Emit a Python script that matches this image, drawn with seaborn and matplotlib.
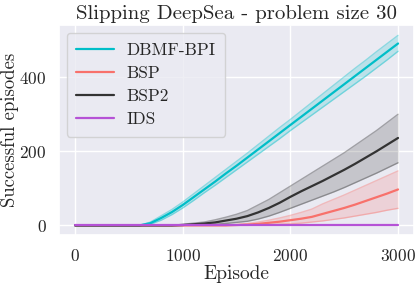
import numpy as np
import pandas as pd
import seaborn as sns
import matplotlib.pyplot as plt

# Data (episodes 0..3000, step 100)
episodes = list(range(0, 3001, 100))

dbmf_mean = [0, 0, 0, 0, 0, 0, 0, 6, 20, 36, 55, 76, 97, 118, 140, 161,
             183, 205, 227, 249, 271, 293, 315, 337, 359, 381, 403, 425, 447, 469, 491]
dbmf_low = [0, 0, 0, 0, 0, 0, 0, 3, 14, 29, 47, 67, 88, 108, 129, 150,
            171, 192, 213, 234, 256, 277, 298, 319, 340, 361, 382, 403, 425, 447, 470]
dbmf_high = [0, 0, 0, 0, 0, 0, 0, 9, 26, 43, 63, 85, 107, 129, 151, 173,
             195, 218, 241, 264, 286, 309, 332, 355, 378, 401, 424, 446, 469, 491, 513]

bsp_mean = [0, 0, 0, 0, 0, 0, 0, 0, 0, 0, 0, 0, 0, 0, 0, 1,
            2, 4, 7, 10, 14, 18, 23, 31, 39, 47, 56, 66, 76, 86, 97]
bsp_low = [0, 0, 0, 0, 0, 0, 0, 0, 0, 0, 0, 0, 0, 0, 0, 0,
           0, 1, 2, 3, 4, 6, 9, 12, 16, 20, 25, 30, 35, 41, 46]
bsp_high = [0, 0, 0, 0, 0, 0, 0, 0, 0, 0, 0, 0, 0, 0, 0, 2,
            5, 9, 14, 20, 27, 35, 44, 58, 70, 82, 95, 108, 121, 134, 147]

bsp2_mean = [0, 0, 0, 0, 0, 0, 0, 0, 0, 0, 1, 3, 5, 8, 13, 18,
             25, 35, 47, 61, 77, 92, 106, 120, 135, 150, 166, 183, 200, 218, 236]
bsp2_low = [0, 0, 0, 0, 0, 0, 0, 0, 0, 0, 0, 1, 2, 3, 5, 8,
            11, 17, 25, 35, 46, 57, 68, 79, 90, 102, 115, 128, 141, 155, 169]
bsp2_high = [0, 0, 0, 0, 0, 0, 0, 0, 0, 0, 3, 6, 9, 15, 22, 30,
             40, 55, 70, 88, 106, 124, 142, 160, 178, 196, 216, 236, 256, 278, 300]

ids_mean = [0] * len(episodes)

methods = ["DBMF-BPI", "BSP", "BSP2", "IDS"]
colors = ["#00bec8", "#f8716b", "#333333", "#b552d6"]
means = [dbmf_mean, bsp_mean, bsp2_mean, ids_mean]
lows = [dbmf_low, bsp_low, bsp2_low, ids_mean]
highs = [dbmf_high, bsp_high, bsp2_high, ids_mean]

sns.set_theme(style="darkgrid")
plt.rcParams["font.family"] = ["cmr10", "DejaVu Serif"]
plt.rcParams["axes.formatter.use_mathtext"] = True
plt.rcParams["mathtext.fontset"] = "cm"

fig = plt.figure(figsize=(4.15, 2.84), dpi=100)
ax = fig.add_axes([0.142, 0.1725, 0.856, 0.7395])

for name, c, m, lo, hi in zip(methods, colors, means, lows, highs):
    df = pd.DataFrame({"Episode": episodes, "val": m})
    sns.lineplot(data=df, x="Episode", y="val", color=c, lw=1.6, label=name, ax=ax)
    if name != "IDS":
        ax.fill_between(episodes, lo, hi, color=c, alpha=0.2, lw=0)
        ax.plot(episodes, lo, color=c, alpha=0.4, lw=1)
        ax.plot(episodes, hi, color=c, alpha=0.4, lw=1)

ax.set_xlim(-150, 3150)
ax.set_ylim(-26, 541)
ax.set_xticks([0, 1000, 2000, 3000])
ax.set_yticks([0, 200, 400])
ax.tick_params(labelsize=12.5, pad=3)
ax.set_title("Slipping DeepSea - problem size 30", fontsize=15, pad=4)
ax.set_xlabel("Episode", fontsize=14, labelpad=1)
ax.set_ylabel("Successful episodes", fontsize=13.5, labelpad=0)
ax.legend(loc="upper left", fontsize=12.5, handlelength=2.2, borderpad=0.55,
          labelspacing=0.45, handletextpad=0.7, borderaxespad=0.45)

fig.savefig("out.png", dpi=100)
